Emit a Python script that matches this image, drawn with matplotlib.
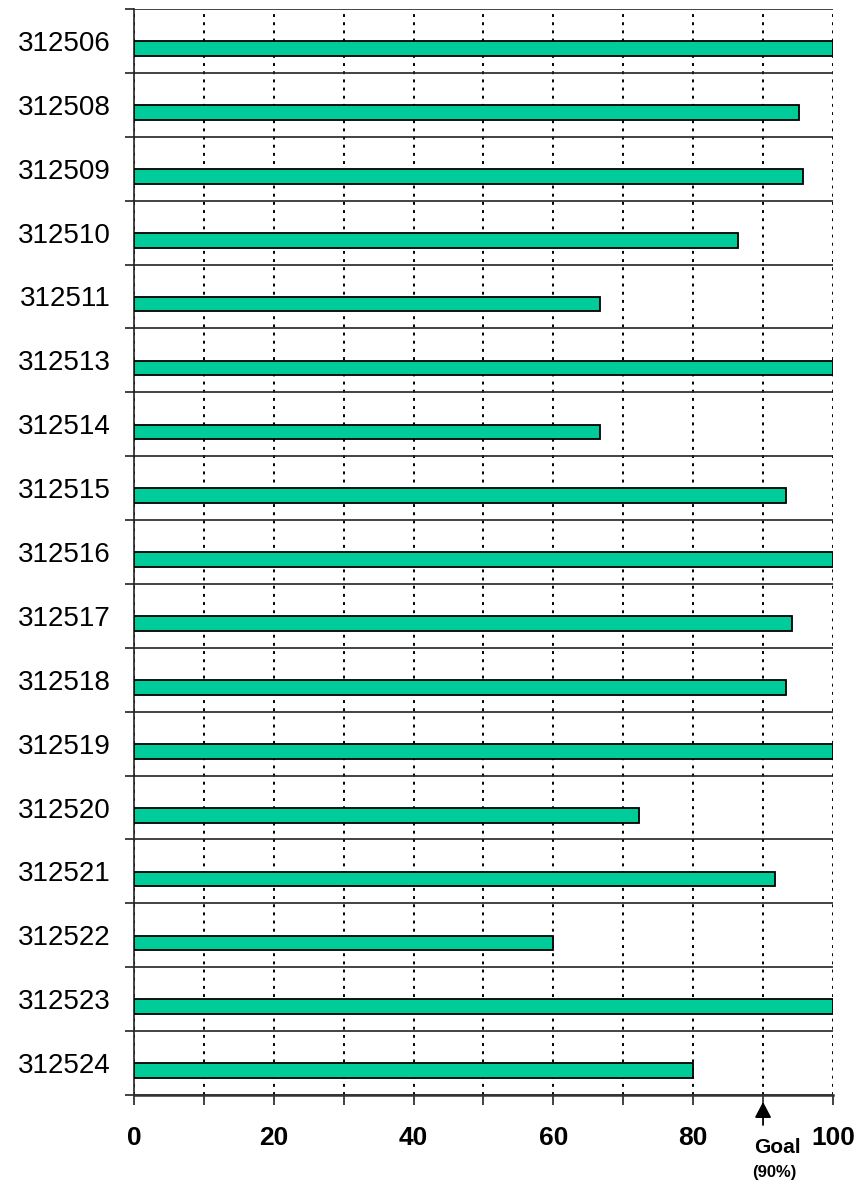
import numpy as np
import matplotlib
matplotlib.use("Agg")
import matplotlib.pyplot as plt

plt.rcParams['font.family'] = ['Liberation Sans', 'DejaVu Sans']

# Donnees
ids = ['312506', '312508', '312509', '312510', '312511', '312513', '312514',
       '312515', '312516', '312517', '312518', '312519', '312520', '312521',
       '312522', '312523', '312524']
pct = [100, 95.2, 95.7, 86.4, 66.7, 100, 66.7, 93.3, 100, 94.1, 93.3, 100,
       72.2, 91.7, 60, 100, 80]
x_ticks = list(range(0, 101, 10))
x_labels = ['0', '', '20', '', '40', '', '60', '', '80', '', '100']
goal = 90

fig = plt.figure(figsize=(8.61, 11.83), dpi=100)
ax = fig.add_axes([0.1556, 0.0744, 0.8118, 0.918])

y = np.arange(len(ids))
ax.barh(y + 0.12, pct, height=0.23, color='#00CC99', edgecolor='black',
        linewidth=1.3, zorder=3)

ax.set_xlim(0, 100)
ax.set_ylim(len(ids) - 0.5, -0.5)

# axe x
ax.set_xticks(x_ticks)
ax.set_xticklabels(x_labels, fontsize=19, fontweight='bold')
ax.tick_params(axis='x', which='major', direction='out', length=7.2,
               width=1.2, pad=15, color='#222222')
ax.grid(axis='x', which='major', color='black', linestyle=(0, (1.5, 2.7)),
        linewidth=1.4, zorder=1)

# axe y
ax.set_yticks(y)
ax.set_yticklabels(ids, fontsize=20)
ax.tick_params(axis='y', which='major', length=0, pad=17)
ax.set_yticks(np.arange(-0.5, len(ids), 1.0), minor=True)
ax.tick_params(axis='y', which='minor', direction='out', length=6.5,
               width=1.2, color='#222222')
ax.grid(axis='y', which='minor', color='#222222', linestyle='-',
        linewidth=1.2, zorder=2)

for s in ['top', 'right']:
    ax.spines[s].set_visible(False)
ax.spines['left'].set_color('#222222')
ax.spines['left'].set_linewidth(1.2)
ax.spines['bottom'].set_color('#333333')
ax.spines['bottom'].set_linewidth(1.8)

# fleche objectif
tr = ax.get_xaxis_transform()
ax.annotate('', xy=(goal, -0.0064), xytext=(goal, -0.0276),
            xycoords=tr, textcoords=tr, annotation_clip=False,
            arrowprops=dict(arrowstyle='-|>,head_length=0.95,head_width=0.5',
                            color='black', lw=1.3, shrinkA=0, shrinkB=0))
ax.text(92.0, -0.0479, 'Goal', transform=tr, ha='center', va='center',
        fontsize=15, fontweight='bold')
ax.text(91.6, -0.0718, '(90%)', transform=tr, ha='center', va='center',
        fontsize=12, fontweight='bold')

fig.savefig('out.png', dpi=100)
